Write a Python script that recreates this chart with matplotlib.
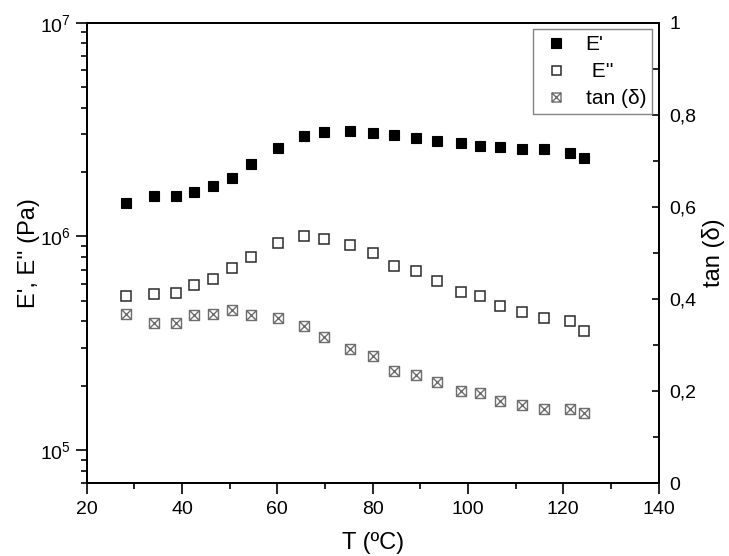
import matplotlib
matplotlib.use("Agg")
import matplotlib.pyplot as plt
from matplotlib.path import Path
from matplotlib.ticker import LogLocator, LogFormatterMathtext, FixedLocator, FixedFormatter, MultipleLocator, NullFormatter

plt.rcParams['font.family'] = ['Liberation Sans', 'DejaVu Sans']
plt.rcParams['mathtext.fontset'] = 'custom'
plt.rcParams['mathtext.rm'] = 'Liberation Sans'
plt.rcParams['mathtext.it'] = 'Liberation Sans:italic'
plt.rcParams['mathtext.bf'] = 'Liberation Sans:bold'

# ---- data ----
temperature = [28.3, 34.2, 38.7, 42.5, 46.5, 50.6, 54.5, 60.1, 65.7, 69.9, 75.2,
               80.0, 84.4, 89.1, 93.5, 98.5, 102.6, 106.8, 111.4, 115.9, 121.5, 124.3]
storage_modulus = [1.43e6, 1.55e6, 1.55e6, 1.61e6, 1.72e6, 1.87e6, 2.18e6, 2.60e6,
                   2.94e6, 3.07e6, 3.10e6, 3.05e6, 2.99e6, 2.90e6, 2.79e6, 2.73e6,
                   2.66e6, 2.62e6, 2.57e6, 2.56e6, 2.46e6, 2.32e6]
loss_modulus = [5.26e5, 5.38e5, 5.42e5, 5.92e5, 6.32e5, 7.09e5, 8.01e5, 9.34e5,
                1.008e6, 9.75e5, 9.08e5, 8.39e5, 7.27e5, 6.87e5, 6.16e5, 5.51e5,
                5.25e5, 4.72e5, 4.41e5, 4.17e5, 4.02e5, 3.60e5]
tan_delta = [0.367, 0.347, 0.347, 0.366, 0.368, 0.377, 0.366, 0.359, 0.342, 0.318,
             0.292, 0.276, 0.243, 0.236, 0.220, 0.201, 0.195, 0.178, 0.169, 0.162,
             0.162, 0.153]
series_labels = ["E'", " E''", "tan (\u03b4)"]
x_ticks = [20, 40, 60, 80, 100, 120, 140]
right_ticks = [0, 0.2, 0.4, 0.6, 0.8, 1.0]
right_tick_labels = ['0', '0,2', '0,4', '0,6', '0,8', '1']

# boxed-x marker
box_x = Path([(-1, -1), (1, -1), (1, 1), (-1, 1), (-1, -1),
              (-1, -1), (1, 1), (-1, 1), (1, -1)],
             [Path.MOVETO, Path.LINETO, Path.LINETO, Path.LINETO, Path.CLOSEPOLY,
              Path.MOVETO, Path.LINETO, Path.MOVETO, Path.LINETO])

fig = plt.figure(figsize=(7.29, 5.56), dpi=100)
ax = fig.add_axes([0.1189, 0.1308, 0.9033 - 0.1189, 0.9592 - 0.1308])
ax2 = ax.twinx()

h1, = ax.plot(temperature, storage_modulus, linestyle='none', marker='s', ms=7.8,
              mfc='black', mec='black', mew=0.8, label=series_labels[0])
h2, = ax.plot(temperature, loss_modulus, linestyle='none', marker='s', ms=7.2,
              mfc='white', mec='#2a2a2a', mew=1.1, label=series_labels[1])
h3, = ax2.plot(temperature, tan_delta, linestyle='none', marker=box_x, ms=7.2,
               mfc='none', mec='#6e6e6e', mew=1.0, label=series_labels[2])

ax.set_yscale('log')
ax.set_xlim(20, 140)
ax.set_ylim(7e4, 1e7)
ax2.set_ylim(0, 1)

ax.xaxis.set_major_locator(FixedLocator(x_ticks))
ax.xaxis.set_minor_locator(MultipleLocator(10))
ax.yaxis.set_major_locator(LogLocator(base=10, numticks=10))
ax.yaxis.set_major_formatter(LogFormatterMathtext())
ax.yaxis.set_minor_locator(LogLocator(base=10, subs=range(2, 10), numticks=20))
ax.yaxis.set_minor_formatter(NullFormatter())

ax2.yaxis.set_major_locator(FixedLocator(right_ticks))
ax2.yaxis.set_major_formatter(FixedFormatter(right_tick_labels))
ax2.yaxis.set_minor_locator(MultipleLocator(0.1))

ax.tick_params(axis='both', which='major', direction='out', length=8, width=1.2,
               labelsize=14, colors='black')
ax.tick_params(axis='both', which='minor', direction='out', length=4, width=1.2)
ax.tick_params(axis='x', pad=5)
ax2.tick_params(axis='y', which='major', direction='in', length=5, width=1.2,
                labelsize=14, pad=8)
ax2.tick_params(axis='y', which='minor', direction='in', length=4, width=1.2)

for a in (ax, ax2):
    for s in a.spines.values():
        s.set_linewidth(1.3)
        s.set_color('black')

ax.set_xlabel('T (\u00baC)', fontsize=17, labelpad=10)
ax.set_ylabel("E', E'' (Pa)", fontsize=17, labelpad=0)
ax2.set_ylabel('tan (\u03b4)', fontsize=17, labelpad=4)

leg = ax2.legend(handles=[h1, h2, h3], loc='upper right', fontsize=15,
                 frameon=True, fancybox=False, edgecolor='#666666',
                 borderaxespad=0.3, handlelength=1.6, handletextpad=0.6,
                 labelspacing=0.38, borderpad=0.3, markerscale=0.9)
leg.get_frame().set_linewidth(1.0)

fig.savefig('out.png', dpi=100)
